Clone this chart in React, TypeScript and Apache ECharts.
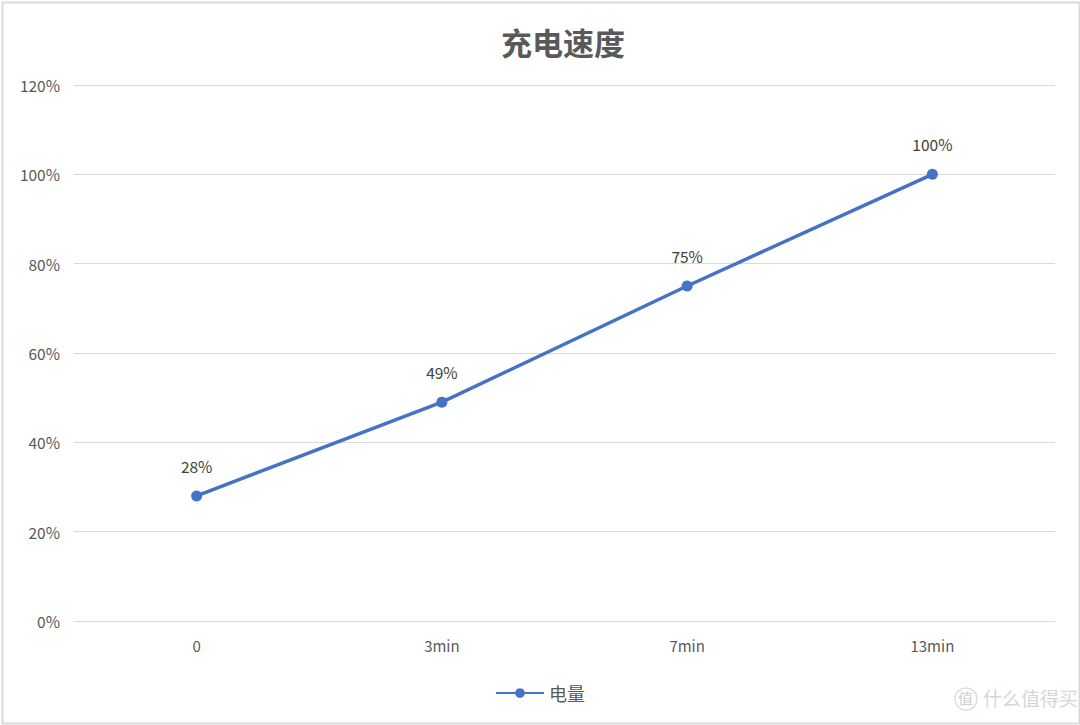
import React, { useEffect, useRef } from "react";
import * as echarts from "echarts";

const categories = ["0", "3min", "7min", "13min"];
const chargeValues = [28, 49, 75, 100];
const yTicks = [0, 20, 40, 60, 80, 100, 120];
const seriesName = "电量";
const titleText = "充电速度";
const watermarkText = "什么值得买";

export default function App() {
  const ref = useRef<HTMLDivElement>(null);
  useEffect(() => {
    document.body.style.margin = "0";
    const chart = echarts.init(ref.current!, null, { renderer: "svg" });
    const font = "'Noto Sans CJK SC', 'Noto Sans', sans-serif";
    chart.setOption({
      animation: false,
      backgroundColor: "#ffffff",
      title: {
        text: titleText,
        left: 496,
        top: 21,
        textStyle: { fontFamily: font, fontSize: 31, fontWeight: "bold", color: "#595959" },
      },
      grid: { left: 74, right: 25, top: 85, bottom: 104, containLabel: false },
      legend: {
        bottom: 18,
        left: "center",
        data: [seriesName],
        itemWidth: 48,
        itemHeight: 12,
        itemGap: 4,
        textStyle: { fontFamily: font, fontSize: 18, color: "#595959" },
      },
      xAxis: {
        type: "category",
        data: categories,
        axisLine: { lineStyle: { color: "#d9d9d9", width: 1 } },
        axisTick: { show: false },
        axisLabel: { fontFamily: font, fontSize: 15, color: "#595959", margin: 17 },
      },
      yAxis: {
        type: "value",
        min: yTicks[0],
        max: yTicks[yTicks.length - 1],
        interval: 20,
        axisLine: { show: false },
        axisTick: { show: false },
        splitLine: { lineStyle: { color: "#d9d9d9", width: 1 } },
        axisLabel: {
          fontFamily: font,
          fontSize: 15.5,
          color: "#595959",
          margin: 14,
          formatter: (v: number) => v + "%",
        },
      },
      series: [
        {
          name: seriesName,
          type: "line",
          data: chargeValues,
          symbol: "circle",
          symbolSize: 11,
          lineStyle: { color: "#4472C4", width: 3.5 },
          itemStyle: { color: "#4472C4" },
          label: {
            show: true,
            position: "top",
            distance: 17,
            fontFamily: font,
            fontSize: 15.5,
            color: "#404040",
            formatter: (p: any) => p.value + "%",
          },
        },
      ],
      graphic: [
        {
          type: "rect",
          left: 0,
          top: 0,
          shape: { x: 1, y: 1, width: 1077, height: 721 },
          style: { fill: "none", stroke: "#d9d9d9", lineWidth: 2 },
          silent: true,
        },
        {
          type: "circle",
          shape: { cx: 966, cy: 699, r: 11 },
          style: { fill: "none", stroke: "#dddddd", lineWidth: 1.5 },
          silent: true,
        },
        {
          type: "text",
          x: 958,
          y: 690,
          style: { text: "值", fontFamily: font, fontSize: 15, fill: "#d0d0d0" },
          silent: true,
        },
        {
          type: "text",
          x: 983,
          y: 688,
          style: { text: watermarkText, fontFamily: font, fontSize: 19, fill: "#d6d6d6" },
          silent: true,
        },
      ],
    });
    return () => chart.dispose();
  }, []);
  return <div ref={ref} style={{ width: 1080, height: 725 }} />;
}
